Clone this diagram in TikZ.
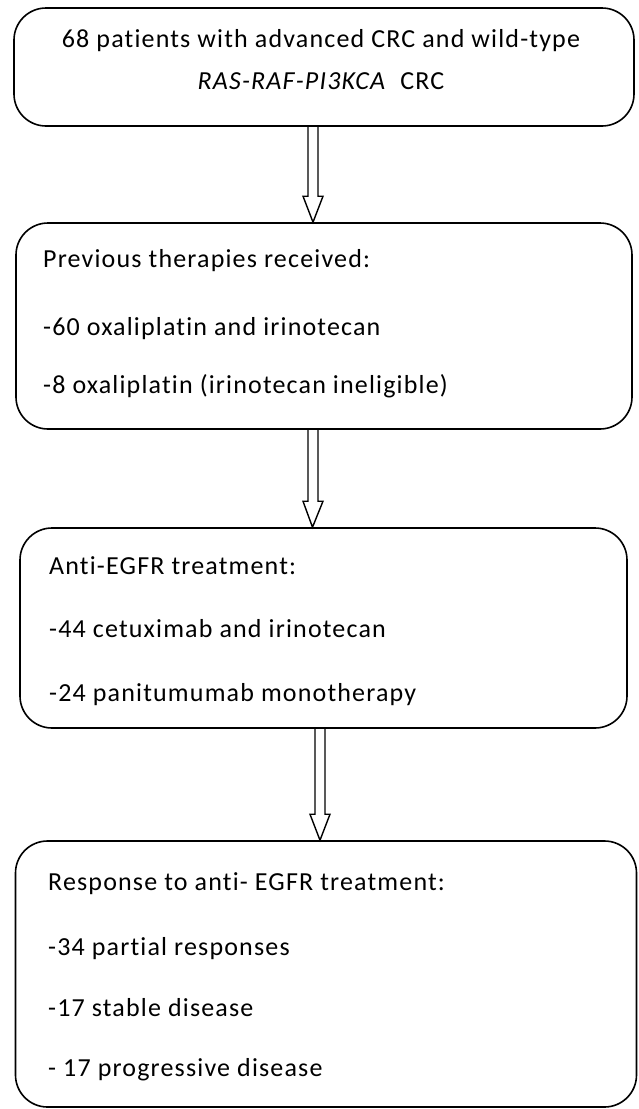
\documentclass[tikz,border=0pt]{standalone}
\usepackage{fontspec}
\setmainfont{Carlito}[LetterSpace=4.5, Ligatures=NoCommon]
\usetikzlibrary{calc}
\tikzset{
  box/.style={draw=black, line width=1.6pt, rounded corners=32pt, rectangle, inner sep=0pt},
  txt/.style={inner sep=0pt, font=\fontsize{26}{31}\selectfont, text=black},
  arrowline/.style={draw=black, line width=1.4pt, line join=miter},
}
\newcommand\blockarrow[2]{%
  \draw[arrowline] let \p1=(#1), \p2=(#2) in
    (\x1-5pt,\y1) -- (\x1-5pt,\y2+26pt) -- (\x1-10pt,\y2+26pt) -- (\x2,\y2)
    -- (\x1+10pt,\y2+26pt) -- (\x1+5pt,\y2+26pt) -- (\x1+5pt,\y1);}
\begin{document}
\begin{tikzpicture}[x=1pt,y=-1pt]
\useasboundingbox (0,0) rectangle (638,1109);
% boxes
\node[box, minimum width=620pt, minimum height=118pt] (b1) at (324,67) {};
\node[box, minimum width=616pt, minimum height=206pt] (b2) at (324,326) {};
\node[box, minimum width=607pt, minimum height=200pt] (b3) at (323.5,628) {};
\node[box, minimum width=621pt, minimum height=266pt] (b4) at (326,974) {};
% texts
\node[txt, anchor=base] (t11) at (321,47) {68 patients with advanced CRC and wild-type};
\node[txt, anchor=base] (t12) at (321,89) {\textit{RAS-RAF-PI3KCA}\ \ CRC};
\node[txt, anchor=base west] (t21) at (43,267) {Previous therapies received:};
\node[txt, anchor=base west] (t22) at (43,335) {-60 oxaliplatin and irinotecan};
\node[txt, anchor=base west] (t23) at (43,393) {-8 oxaliplatin (irinotecan ineligible)};
\node[txt, anchor=base west] (t31) at (49,574) {Anti-EGFR treatment:};
\node[txt, anchor=base west] (t32) at (49,637) {-44 cetuximab and irinotecan};
\node[txt, anchor=base west] (t33) at (49,701) {-24 panitumumab monotherapy};
\node[txt, anchor=base west] (t41) at (48,890) {Response to anti- EGFR treatment:};
\node[txt, anchor=base west] (t42) at (48,955) {-34 partial responses};
\node[txt, anchor=base west] (t43) at (48,1016) {-17 stable disease};
\node[txt, anchor=base west] (t44) at (48,1076) {- 17 progressive disease};
% arrows
\coordinate (a1s) at ($(b1.south)+(-11,0)$);
\coordinate (a1e) at ($(b2.north)+(-11,0)$);
\coordinate (a2s) at ($(b2.south)+(-11,0)$);
\coordinate (a2e) at ($(b3.north)+(-11,0)$);
\coordinate (a3s) at ($(b3.south)+(-3.5,0)$);
\coordinate (a3e) at ($(b4.north)+(-6,0)$);
\blockarrow{a1s}{a1e}
\blockarrow{a2s}{a2e}
\blockarrow{a3s}{a3e}
\end{tikzpicture}
\end{document}
